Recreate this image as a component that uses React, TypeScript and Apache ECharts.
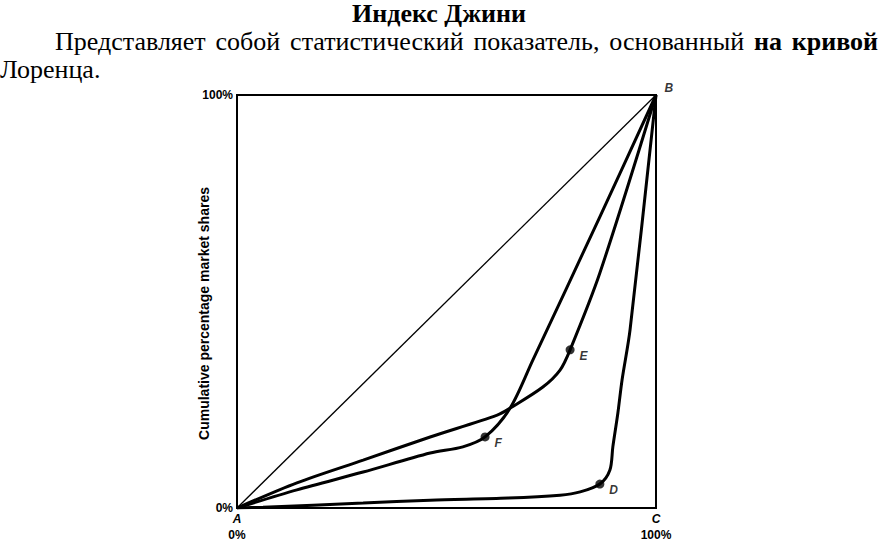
import React, { useEffect, useRef } from 'react';
import * as echarts from 'echarts';

const titleText = 'Индекс Джини';
const paragraphWords: { t: string; bold: boolean }[] = [
  { t: 'Представляет', bold: false },
  { t: 'собой', bold: false },
  { t: 'статистический', bold: false },
  { t: 'показатель,', bold: false },
  { t: 'основанный', bold: false },
  { t: 'на', bold: true },
  { t: 'кривой', bold: true },
];
const paragraphLine2 = 'Лоренца.';
const yAxisName = 'Cumulative percentage market shares';

const xTickLabels: Record<number, [string, string]> = { 0: ['A', '0%'], 100: ['C', '100%'] };
const yTickLabels: Record<number, string> = { 0: '0%', 100: '100%' };

const equalityLine = [[0, 0], [100, 100]];
const curveF = [
  [0, 0], [14.3, 4.4], [30.1, 8.7], [46.1, 13.3], [53.9, 14.8], [59.2, 17.2],
  [65.2, 24.2], [70.6, 35.8], [86.6, 70.5], [100, 100],
];
const curveE = [
  [0, 0], [14.3, 6.1], [30.1, 11.6], [46.1, 17.2], [62.1, 22.5], [65.2, 24.2],
  [73.0, 29.3], [77.1, 33.4], [79.5, 38.3], [86.6, 56.9], [100, 100],
];
const curveD = [
  [0, 0], [6.2, 0.2], [30.1, 1.2], [46.1, 1.9], [64.7, 2.4], [77.1, 3.1],
  [81.9, 3.9], [86.6, 5.8], [89.0, 9.2], [89.7, 14.8], [90.9, 23.0],
  [91.9, 31.0], [93.8, 43.1], [100, 100],
];
const markedPoints: [number, number, string][] = [
  [59.2, 17.2, 'F'],
  [79.5, 38.3, 'E'],
  [86.6, 5.8, 'D'],
];
const cornerPoint: [number, number, string][] = [[100, 100, 'B']];

const SERIF = '"Liberation Serif", "DejaVu Serif", serif';
const SANS = '"Liberation Sans", Arial, sans-serif';

function measure(text: string, font: string): number {
  const c = document.createElement('canvas').getContext('2d');
  if (!c) return text.length * 12;
  c.font = font;
  return c.measureText(text).width;
}

export default function App() {
  const ref = useRef<HTMLDivElement>(null);

  useEffect(() => {
    if (!ref.current) return;
    const chart = echarts.init(ref.current, undefined, { renderer: 'svg' });

    // justified first paragraph line
    const pSize = 26;
    const lineLeft = 55;
    const lineRight = 878;
    const widths = paragraphWords.map((w) =>
      measure(w.t, `${w.bold ? 'bold ' : ''}${pSize}px "Liberation Serif"`)
    );
    const total = widths.reduce((a, b) => a + b, 0);
    const gap = (lineRight - lineLeft - total) / (paragraphWords.length - 1);
    let cx = lineLeft;
    const wordEls: any[] = paragraphWords.map((w, i) => {
      const el = {
        type: 'text',
        x: cx,
        y: 28,
        style: {
          text: w.t,
          font: `${w.bold ? 'bold ' : ''}${pSize}px ${SERIF}`,
          fill: '#000',
        },
      };
      cx += widths[i] + gap;
      return el;
    });

    const lineStyle = (w: number) => ({ color: '#000', width: w });
    const letterLabel = {
      fontFamily: SANS,
      fontStyle: 'italic',
      fontWeight: 'bold',
      fontSize: 12,
      color: '#000',
    };

    chart.setOption({
      animation: false,
      backgroundColor: '#fff',
      grid: {
        left: 237,
        right: 878 - 656,
        top: 95,
        bottom: 542 - 508,
        show: true,
        borderColor: '#000',
        borderWidth: 2,
        backgroundColor: 'transparent',
      },
      graphic: [
        {
          type: 'text',
          x: 439,
          y: 0,
          style: {
            text: titleText,
            font: `bold 26px ${SERIF}`,
            fill: '#000',
            align: 'center',
          },
        },
        ...wordEls,
        {
          type: 'text',
          x: 0,
          y: 56,
          style: { text: paragraphLine2, font: `${pSize}px ${SERIF}`, fill: '#000' },
        },
      ],
      xAxis: {
        type: 'value',
        min: 0,
        max: 100,
        interval: 100,
        axisLine: { show: false },
        axisTick: { show: false },
        splitLine: { show: false },
        axisLabel: {
          margin: 3,
          formatter: (v: number) => {
            const l = xTickLabels[v];
            return l ? `{l|${l[0]}}\n{p|${l[1]}}` : '';
          },
          rich: {
            l: { ...letterLabel, lineHeight: 16 },
            p: { fontFamily: SANS, fontWeight: 'bold', fontSize: 12, color: '#000', lineHeight: 16 },
          },
        },
      },
      yAxis: {
        type: 'value',
        min: 0,
        max: 100,
        interval: 100,
        axisLine: { show: false },
        axisTick: { show: false },
        splitLine: { show: false },
        name: yAxisName,
        nameLocation: 'middle',
        nameGap: 26,
        nameMoveOverlap: false,
        nameTextStyle: {
          fontFamily: SANS,
          fontSize: 14,
          fontWeight: 'bold',
          color: '#000',
          padding: [0, 24, 0, 0],
        },
        axisLabel: {
          margin: 4,
          fontFamily: SANS,
          fontWeight: 'bold',
          fontSize: 12,
          color: '#000',
          formatter: (v: number) => yTickLabels[v] ?? '',
        },
      },
      series: [
        {
          type: 'line',
          data: equalityLine,
          symbol: 'none',
          lineStyle: lineStyle(1.3),
        },
        {
          type: 'line',
          data: curveF,
          symbol: 'none',
          smooth: 0.3,
          lineStyle: lineStyle(3),
        },
        {
          type: 'line',
          data: curveE,
          symbol: 'none',
          smooth: 0.3,
          lineStyle: lineStyle(3),
        },
        {
          type: 'line',
          data: curveD,
          symbol: 'none',
          smooth: 0.3,
          lineStyle: lineStyle(3),
        },
        {
          type: 'scatter',
          data: markedPoints,
          symbol: 'circle',
          symbolSize: 9,
          itemStyle: { color: '#000' },
          label: {
            show: true,
            position: 'right',
            distance: 5,
            offset: [0, 6],
            formatter: (p: any) => p.value[2],
            ...letterLabel,
          },
          z: 5,
        },
        {
          type: 'scatter',
          data: cornerPoint,
          symbolSize: 1,
          itemStyle: { color: 'transparent' },
          label: {
            show: true,
            position: 'right',
            distance: 8,
            offset: [0, -7],
            formatter: (p: any) => p.value[2],
            ...letterLabel,
          },
        },
      ],
    });

    return () => chart.dispose();
  }, []);

  return (
    <div
      ref={ref}
      style={{ position: 'fixed', left: 0, top: 0, width: 878, height: 542, background: '#fff' }}
    />
  );
}
